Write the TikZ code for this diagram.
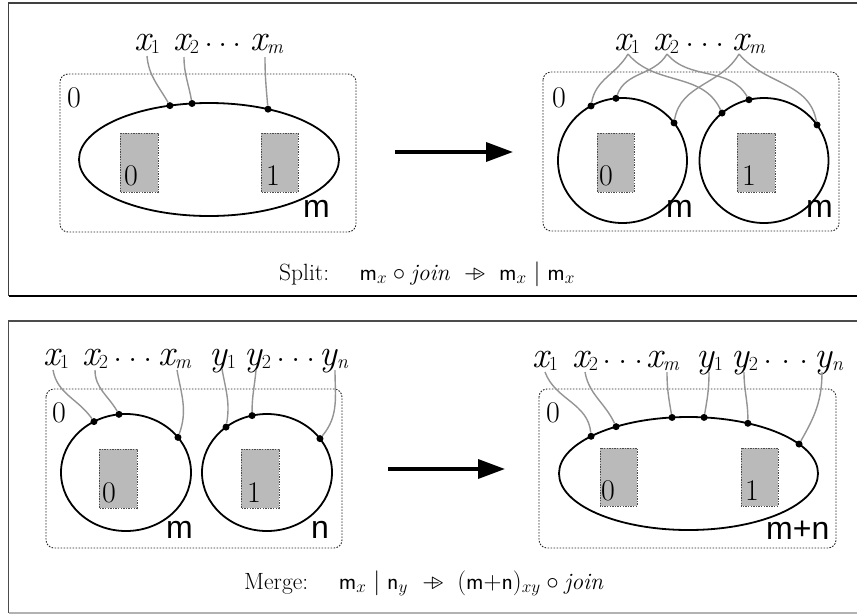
\documentclass[tikz,border=0pt]{standalone}
\usepackage{fontspec}
\usetikzlibrary{arrows.meta,calc}
\newfontfamily\labsans{Liberation Sans}
\newcommand{\labx}[2]{{\itshape #1}\raisebox{-3pt}{\fontsize{20}{20}\selectfont #2}}
\newcommand{\labxi}[2]{{\itshape #1}\raisebox{-3.5pt}{\fontsize{20}{20}\selectfont\itshape #2}}
\newcommand{\threedots}[1]{\raisebox{4pt}{.}\hspace{#1}\raisebox{4pt}{.}\hspace{#1}\raisebox{4pt}{.}}
\newcommand{\tarr}{\mathrel{-\mkern-7mu\triangleright}}
\tikzset{
  lab/.style={inner sep=0pt, font=\fontsize{37}{37}\selectfont, anchor=base west},
  dig/.style={inner sep=0pt, font=\fontsize{30}{30}\selectfont, anchor=base west},
  sanslab/.style={inner sep=0pt, font=\labsans\fontsize{32}{32}\selectfont, anchor=base west},
  captext/.style={inner sep=0pt, anchor=base west, font=\fontsize{23.5}{28}\selectfont},
  dot/.style={circle, fill=black, inner sep=0pt, minimum size=7pt},
  wire/.style={draw=black!42, line width=1.4pt},
  loopline/.style={line width=1.8pt},
  dotbox/.style={draw=black!85, line width=0.9pt, dash pattern=on 1.6pt off 1.4pt, rounded corners=8pt},
  graybox/.style={fill=black!27, draw=black!70, line width=0.8pt, dash pattern=on 1.4pt off 1.2pt},
  bigarrow/.style={line width=3.5pt, -{Triangle[length=27pt,width=19pt]}},
}
\begin{document}
\begin{tikzpicture}[x=1pt,y=-1pt]
\path[use as bounding box, fill=white] (0,0) rectangle (857,614);

% frames
\draw[line width=1.3pt, draw=black!75] (857,3) -- (8.5,3) -- (8.5,296);
\draw[line width=1.3pt, draw=black] (8.5,296) -- (857,296);
\draw[line width=1.3pt, draw=black!70] (857,321) -- (8.5,321) -- (8.5,613);
\draw[line width=1.3pt, draw=black!30] (8.5,613) -- (857,613);

% ================= TOP LEFT =================
\draw[dotbox] (60,74) rectangle (356,232);
\coordinate (cTL) at (209,159.5);
\draw[loopline] (cTL) ellipse [x radius=130pt, y radius=56.5pt];
\draw[graybox] (120,133) rectangle (158,192);
\draw[graybox] (261,133) rectangle (298,192);
\node[dig] (tlOut) at (67,107) {0};
\node[dig] (tlIn0) at (124,185) {0};
\node[dig] (tlIn1) at (266,185) {1};
\node[sanslab] (tlM) at (303,217) {m};
\node[lab] (tlx1) at (134,50) {\labx{x}{1}};
\node[lab] (tlx2) at (173,50) {\labx{x}{2}};
\node[lab] (tldd) at (204,50) {\threedots{5pt}};
\node[lab] (tlxm) at (250,50) {\labxi{x}{m}};
\coordinate (tls1) at (147,56);
\coordinate (tls2) at (184,57);
\coordinate (tls3) at (265,57);
\node[dot] (tld1) at ($(cTL)+(107.5:130pt and 56.5pt)$) {};
\node[dot] (tld2) at ($(cTL)+(97.5:130pt and 56.5pt)$) {};
\node[dot] (tld3) at ($(cTL)+(63:130pt and 56.5pt)$) {};
\draw[wire] (tls1) to[out=-85,in=120] (tld1);
\draw[wire] (tls2) to[out=-90,in=100] (tld2);
\draw[wire] (tls3) to[out=-90,in=95] (tld3);

% arrow top
\coordinate (aTs) at (395,152);
\coordinate (aTe) at (513,152);
\draw[bigarrow] (aTs) -- (aTe);

% ================= TOP RIGHT =================
\draw[dotbox] (543,72) rectangle (839,231);
\coordinate (cTR1) at (622.5,160.5);
\coordinate (cTR2) at (764,160.5);
\draw[loopline] (cTR1) ellipse [x radius=64.5pt, y radius=62.5pt];
\draw[loopline] (cTR2) ellipse [x radius=64.5pt, y radius=62.5pt];
\draw[graybox] (597,133) rectangle (634,192);
\draw[graybox] (737,133) rectangle (775,192);
\node[dig] (trOut) at (552,107) {0};
\node[dig] (trIn0) at (599,185) {0};
\node[dig] (trIn1) at (742,185) {1};
\node[sanslab] (trM1) at (666,217) {m};
\node[sanslab] (trM2) at (806,217) {m};
\node[lab] (trx1) at (614,50) {\labx{x}{1}};
\node[lab] (trx2) at (653,50) {\labx{x}{2}};
\node[lab] (trdd) at (685,50) {\threedots{6pt}};
\node[lab] (trxm) at (732,50) {\labxi{x}{m}};
\coordinate (trs1) at (628,54);
\coordinate (trs2) at (667,54);
\coordinate (trs3) at (739,54);
\node[dot] (trd1) at ($(cTR1)+(119.2:64.5pt and 62.5pt)$) {};
\node[dot] (trd2) at ($(cTR1)+(95.8:64.5pt and 62.5pt)$) {};
\node[dot] (trd3) at ($(cTR1)+(37:64.5pt and 62.5pt)$) {};
\node[dot] (trd4) at ($(cTR2)+(130.6:64.5pt and 62.5pt)$) {};
\node[dot] (trd5) at ($(cTR2)+(103.5:64.5pt and 62.5pt)$) {};
\node[dot] (trd6) at ($(cTR2)+(34.7:64.5pt and 62.5pt)$) {};
\draw[wire] (trs1) to[out=-120,in=80] (trd1);
\draw[wire] (trs1) to[out=-50,in=115] (trd4);
\draw[wire] (trs2) to[out=-120,in=70] (trd2);
\draw[wire] (trs2) to[out=-50,in=120] (trd5);
\draw[wire] (trs3) to[out=-120,in=80] (trd3);
\draw[wire] (trs3) to[out=-50,in=100] (trd6);

\node[captext] (capT) at (279,280) {Split:\hspace{1.3em}$\mathsf{m}_x\circ\mathit{join}\;\tarr\;\mathsf{m}_x\mid\mathsf{m}_x$};

% ================= BOTTOM LEFT =================
\draw[dotbox] (46,389) rectangle (342,548);
\coordinate (cBL1) at (126,472.5);
\coordinate (cBL2) at (267,472.5);
\draw[loopline] (cBL1) ellipse [x radius=65pt, y radius=58.5pt];
\draw[loopline] (cBL2) ellipse [x radius=65pt, y radius=58.5pt];
\draw[graybox] (99,449) rectangle (137,508);
\draw[graybox] (241,449) rectangle (279,508);
\node[dig] (blOut) at (52,422) {0};
\node[dig] (blIn0) at (102,502) {0};
\node[dig] (blIn1) at (247,502) {1};
\node[sanslab] (blM) at (166,538) {m};
\node[sanslab] (blN) at (311,538) {n};
\node[lab] (blx1) at (43,365) {\labx{x}{1}};
\node[lab] (blx2) at (82,365) {\labx{x}{2}};
\node[lab] (bldx) at (113,365) {\threedots{6pt}};
\node[lab] (blxm) at (158,365) {\labxi{x}{m}};
\node[lab] (bly1) at (209,365) {\labx{y}{1}};
\node[lab] (bly2) at (244,365) {\labx{y}{2}};
\node[lab] (bldy) at (276,365) {\threedots{6pt}};
\node[lab] (blyn) at (319,365) {\labxi{y}{n}};
\coordinate (bls1) at (53,370);
\coordinate (bls2) at (95,370);
\coordinate (bls3) at (177,370);
\coordinate (bls4) at (222,369);
\coordinate (bls5) at (256,370);
\coordinate (bls6) at (335,370);
\node[dot] (bld1) at ($(cBL1)+(119.5:65pt and 58.5pt)$) {};
\node[dot] (bld2) at ($(cBL1)+(96.2:65pt and 58.5pt)$) {};
\node[dot] (bld3) at ($(cBL1)+(36.9:65pt and 58.5pt)$) {};
\node[dot] (bld4) at ($(cBL2)+(129.1:65pt and 58.5pt)$) {};
\node[dot] (bld5) at ($(cBL2)+(103.3:65pt and 58.5pt)$) {};
\node[dot] (bld6) at ($(cBL2)+(35.4:65pt and 58.5pt)$) {};
\draw[wire] (bls1) to[out=-80,in=125] (bld1);
\draw[wire] (bls2) to[out=-90,in=120] (bld2);
\draw[wire] (bls3) to[out=-80,in=70] (bld3);
\draw[wire] (bls4) to[out=-80,in=80] (bld4);
\draw[wire] (bls5) to[out=-95,in=90] (bld5);
\draw[wire] (bls6) to[out=-90,in=50] (bld6);

% arrow bottom
\coordinate (aBs) at (388,469);
\coordinate (aBe) at (505,469);
\draw[bigarrow] (aBs) -- (aBe);

% ================= BOTTOM RIGHT =================
\draw[dotbox] (539,389) rectangle (836,548);
\coordinate (cBR) at (688.5,473.5);
\draw[loopline] (cBR) ellipse [x radius=129.5pt, y radius=56.5pt];
\draw[graybox] (600,448) rectangle (637,506);
\draw[graybox] (741,448) rectangle (778,506);
\node[dig] (brOut) at (546,422) {0};
\node[dig] (brIn0) at (601,500) {0};
\node[dig] (brIn1) at (745,500) {1};
\node[sanslab] (brMN) at (766,539) {m+n};
\node[lab] (brx1) at (532,367) {\labx{x}{1}};
\node[lab] (brx2) at (572,367) {\labx{x}{2}};
\node[lab] (brdx) at (602,367) {\threedots{7pt}};
\node[lab] (brxm) at (646,367) {\labxi{x}{m}};
\node[lab] (bry1) at (696,367) {\labx{y}{1}};
\node[lab] (bry2) at (731,367) {\labx{y}{2}};
\node[lab] (brdy) at (763,367) {\threedots{9pt}};
\node[lab] (bryn) at (814,367) {\labxi{y}{n}};
\coordinate (brs1) at (545,372);
\coordinate (brs2) at (585,372);
\coordinate (brs3) at (667,372);
\coordinate (brs4) at (709,372);
\coordinate (brs5) at (744,372);
\coordinate (brs6) at (822,372);
\node[dot] (brd1) at ($(cBR)+(138.8:129.5pt and 56.5pt)$) {};
\node[dot] (brd2) at ($(cBR)+(124:129.5pt and 56.5pt)$) {};
\node[dot] (brd3) at ($(cBR)+(97.3:129.5pt and 56.5pt)$) {};
\node[dot] (brd4) at ($(cBR)+(83.1:129.5pt and 56.5pt)$) {};
\node[dot] (brd5) at ($(cBR)+(62.7:129.5pt and 56.5pt)$) {};
\node[dot] (brd6) at ($(cBR)+(31.4:129.5pt and 56.5pt)$) {};
\draw[wire] (brs1) to[out=-70,in=95] (brd1);
\draw[wire] (brs2) to[out=-80,in=115] (brd2);
\draw[wire] (brs3) to[out=-90,in=100] (brd3);
\draw[wire] (brs4) to[out=-90,in=80] (brd4);
\draw[wire] (brs5) to[out=-90,in=90] (brd5);
\draw[wire] (brs6) to[out=-90,in=60] (brd6);

\node[captext] (capB) at (244,589) {Merge:\hspace{1.3em}$\mathsf{m}_x\mid\mathsf{n}_y\;\tarr\;(\mathsf{m{+}n})_{xy}\circ\mathit{join}$};
\end{tikzpicture}
\end{document}
